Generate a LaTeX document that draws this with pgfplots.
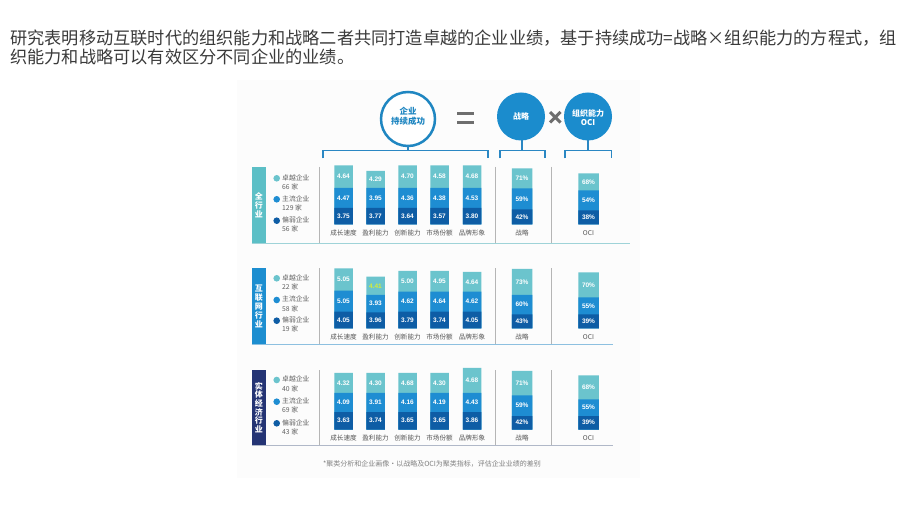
\documentclass[border=0pt]{standalone}
\usepackage{fontspec}
\setmainfont{Noto Sans CJK SC}
\newfontfamily\numfont{Liberation Sans}
\usepackage{pgfplots}
\pgfplotsset{compat=1.18}
\usepackage{pgfplotstable}

\definecolor{ctop}{HTML}{6BC4CD}
\definecolor{cmid}{HTML}{1E8DD2}
\definecolor{cbot}{HTML}{0E5DA5}
\definecolor{cring}{HTML}{1F86C1}
\definecolor{cfill}{HTML}{1B8CCD}
\definecolor{cbr}{HTML}{2A87C3}
\definecolor{cbox1}{HTML}{5CBFC6}
\definecolor{cbox2}{HTML}{1D8ED0}
\definecolor{cbox3}{HTML}{243474}
\definecolor{chl}{HTML}{D4EC3A}
\definecolor{ctxt}{HTML}{3A3A3A}
\definecolor{ccat}{HTML}{555555}
\definecolor{cleg}{HTML}{606060}
\definecolor{csym}{HTML}{6E6E6E}
\definecolor{csep}{HTML}{B5B5B5}
\definecolor{cbg}{HTML}{FCFCFC}

% x: bar centre; h1,h2,h3: drawn heights (px) of bottom, middle, top segments; v1,v2,v3: values shown; hl: highlighted top label
\pgfplotstableread{
x     h1   h2   h3   v1   v2   v3   hl
343.5 16.5 20   22.5 3.75 4.47 4.64 0
375.5 16.5 20   17   3.77 3.95 4.29 0
407.5 16.5 20   22.5 3.64 4.36 4.70 0
439.5 16.5 20   22.5 3.57 4.38 4.58 0
472   16.5 20   22.5 3.80 4.53 4.68 0
}\pAm
\pgfplotstableread{
x     h1   h2   h3   v1 v2 v3 hl
522   15   21   20   42 59 71 0
588.5 14   20   17   38 54 68 0
}\pAs
\pgfplotstableread{
x     h1   h2   h3   v1   v2   v3   hl
343.5 16.6 21   22.4 4.05 5.05 5.05 0
375.5 16   17.3 18.3 3.96 3.93 4.41 1
407.5 16.6 20   20.7 3.79 4.62 5.00 0
439.5 16.6 20   20.7 3.74 4.64 4.95 0
472   16.6 20   19.7 4.05 4.62 4.64 0
}\pBm
\pgfplotstableread{
x     h1   h2   h3   v1 v2 v3 hl
522   14   19.3 26   43 60 73 0
588.5 14   17   25   39 55 70 0
}\pBs
\pgfplotstableread{
x     h1   h2   h3   v1   v2   v3   hl
343.5 17.5 19   20   3.63 4.09 4.32 0
375.5 17.5 19   20   3.74 3.91 4.30 0
407.5 17.5 19   20   3.65 4.16 4.68 0
439.5 17.5 19   20   3.65 4.19 4.30 0
472   17.5 19   25   3.86 4.43 4.68 0
}\pCm
\pgfplotstableread{
x     h1   h2   h3   v1 v2 v3 hl
522   13.5 20.7 24.3 42 59 71 0
588.5 13.5 16.7 24   39 55 68 0
}\pCs

\pgfplotsset{lbl/.style={draw=none, mark=none, point meta=explicit symbolic,
  nodes near coords style={anchor=center, text=white, font=\numfont\bfseries\fontsize{6.5}{7}\selectfont}}}

\newcommand{\panelbars}[3]{%
\addplot[ybar, bar width=#2, bar shift=0pt, draw=none, fill=ctop] table[x=x, y expr=\thisrow{h1}+\thisrow{h2}+\thisrow{h3}]{#1};
\addplot[ybar, bar width=#2, bar shift=0pt, draw=none, fill=cmid] table[x=x, y expr=\thisrow{h1}+\thisrow{h2}]{#1};
\addplot[ybar, bar width=#2, bar shift=0pt, draw=none, fill=cbot] table[x=x, y=h1]{#1};
\addplot[lbl, nodes near coords={\pgfplotspointmeta#3}]
  table[x=x, y expr=\thisrow{h1}/2, meta=v1]{#1};
\addplot[lbl, nodes near coords={\pgfplotspointmeta#3}]
  table[x=x, y expr=\thisrow{h1}+\thisrow{h2}/2, meta=v2]{#1};
\addplot[lbl, nodes near coords={\pgfplotspointmeta#3}, restrict expr to domain={\thisrow{hl}}{-0.5:0.5}]
  table[x=x, y expr=\thisrow{h1}+\thisrow{h2}+\thisrow{h3}/2, meta=v3]{#1};
\addplot[lbl, nodes near coords={\textcolor{chl}{\pgfplotspointmeta#3}}, restrict expr to domain={\thisrow{hl}}{0.5:1.5}]
  table[x=x, y expr=\thisrow{h1}+\thisrow{h2}+\thisrow{h3}/2, meta=v3]{#1};
}

\pgfplotsset{panel/.style={scale only axis, width=340pt, height=70pt,
  xmin=300, xmax=640, ymin=0, ymax=70, clip=false, anchor=south west,
  axis line style={draw=none}, ytick=\empty, major tick length=0pt,
  xtick={343.5,375.5,407.5,439.5,472,522,588.5},
  xticklabels={成长速度,盈利能力,创新能力,市场份额,品牌形象,战略,OCI},
  xticklabel style={anchor=center, yshift=-8.5pt, font=\fontsize{6.6}{7}\selectfont, text=ccat}}}

\begin{document}
\begin{tikzpicture}
\useasboundingbox (0,0) rectangle (920pt,-518pt);
\fill[white] (0,0) rectangle (920pt,-518pt);
\begin{scope}[x=1pt, y=-1pt]
\fill[cbg] (237,80) rectangle (640,478);
% title
\node[anchor=west, inner sep=0, text=ctxt, font=\fontsize{17.2}{20}\selectfont] at (10,38) {研究表明移动互联时代的组织能力和战略二者共同打造卓越的企业业绩，基于持续成功=战略×组织能力的方程式，组};
\node[anchor=west, inner sep=0, text=ctxt, font=\fontsize{17.2}{20}\selectfont] at (10,57) {织能力和战略可以有效区分不同企业的业绩。};
% header circles
\draw[cring, line width=2.5pt, fill=white] (408,119) circle (27);
\node[text=cring, align=center, font=\bfseries\fontsize{8.5}{10.5}\selectfont] at (408,116.5) {企业\\持续成功};
\draw[csym, line width=3pt] (457,113.5)--(474,113.5) (457,122.5)--(474,122.5);
\draw[csym, line width=3pt] (550,112)--(560.5,122.5) (550,122.5)--(560.5,112);
\fill[cfill] (521,116.5) circle (24);
\node[text=white, font=\bfseries\fontsize{8}{9}\selectfont] at (521,116.5) {战略};
\fill[cfill] (588,116.5) circle (24);
\node[text=white, align=center, font=\bfseries\fontsize{8}{9.5}\selectfont] at (588,117.5) {组织能力\\OCI};
% brackets
\draw[cbr, line width=1.2pt] (323,158.5)--(323,150.5)--(488,150.5)--(488,158.5) (408,146)--(408,150.5);
\draw[cbr, line width=1.2pt] (500,158.5)--(500,150.5)--(545,150.5)--(545,158.5) (522,140.5)--(522,150.5);
\draw[cbr, line width=1.2pt] (565,158.5)--(565,150.5)--(611.5,150.5)--(611.5,158.5) (588,140.5)--(588,150.5);
% panel frames
\foreach \top/\bot/\col/\lc/\xe in {167/243.5/cbox1/9FD3D8/630, 268.3/344/cbox2/8DC0E0/613, 370/445/cbox3/B0B8C8/613}{
  \definecolor{lc}{HTML}{\lc}
  \fill[\col] (251.7,\top) rectangle (266,\bot);
  \draw[lc, line width=1pt] (251.7,\bot)--(\xe,\bot);
  \draw[csep, line width=0.6pt] (319,\top)--(319,\bot) (495,\top)--(495,\bot) (551.5,\top)--(551.5,\bot);
}
\node[text=white, align=center, font=\bfseries\fontsize{8}{9}\selectfont] at (258.8,205) {全\\行\\业};
\node[text=white, align=center, font=\bfseries\fontsize{8}{9}\selectfont] at (258.8,306) {互\\联\\网\\行\\业};
\node[text=white, align=center, font=\bfseries\fontsize{8}{8.6}\selectfont] at (258.8,407.5) {实\\体\\经\\济\\行\\业};
% legends
\foreach \ya/\yb/\yc/\na/\nb/\nc in {178.3/199.3/220.7/66/129/56, 278.3/300/320.7/22/58/19, 380/401.7/423.3/40/69/43}{
  \fill[ctop] (276.7,\ya) circle (3.3);
  \fill[cmid] (276.7,\yb) circle (3.3);
  \fill[cbot] (276.7,\yc) circle (3.3);
  \node[anchor=west, inner sep=0, text=cleg, font=\fontsize{6.8}{8}\selectfont] at (282,\ya-0.8) {卓越企业};
  \node[anchor=west, inner sep=0, text=cleg, font=\fontsize{6.8}{8}\selectfont] at (282,\ya+8.4) {\na\ 家};
  \node[anchor=west, inner sep=0, text=cleg, font=\fontsize{6.8}{8}\selectfont] at (282,\yb-0.8) {主流企业};
  \node[anchor=west, inner sep=0, text=cleg, font=\fontsize{6.8}{8}\selectfont] at (282,\yb+8.4) {\nb\ 家};
  \node[anchor=west, inner sep=0, text=cleg, font=\fontsize{6.8}{8}\selectfont] at (282,\yc-0.8) {偏弱企业};
  \node[anchor=west, inner sep=0, text=cleg, font=\fontsize{6.8}{8}\selectfont] at (282,\yc+8.4) {\nc\ 家};
}
\node[text=gray, font=\fontsize{7}{8}\selectfont] at (432,463.5) {*聚类分析和企业画像·以战略及OCI为聚类指标，评估企业业绩的差别};
\end{scope}

\begin{axis}[panel, at={(300pt,-224.5pt)}]
\panelbars{\pAm}{18.5pt}{}
\panelbars{\pAs}{20.5pt}{\%}
\end{axis}
\begin{axis}[panel, at={(300pt,-328.3pt)}]
\panelbars{\pBm}{18.5pt}{}
\panelbars{\pBs}{20.5pt}{\%}
\end{axis}
\begin{axis}[panel, at={(300pt,-429.5pt)}]
\panelbars{\pCm}{18.5pt}{}
\panelbars{\pCs}{20.5pt}{\%}
\end{axis}
\end{tikzpicture}
\end{document}
